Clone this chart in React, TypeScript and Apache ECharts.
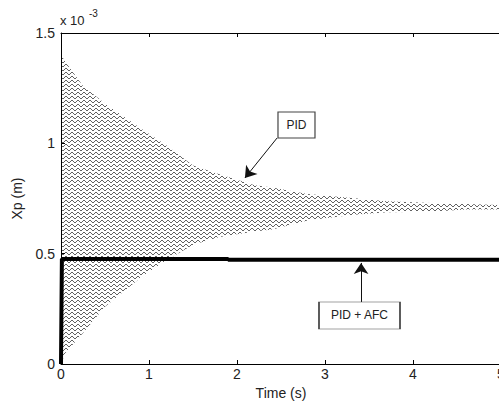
import React, { useEffect, useRef } from "react";
import * as echarts from "echarts";

// PID response: decaying oscillation band (envelope), units of 1e-3 m
const envTime = [0, 0.05, 0.25, 0.5, 0.9, 1.2, 1.5, 1.8, 2.2, 2.4, 2.8, 3.3, 3.7, 4.2, 4.6, 5.0];
const pidUpper = [1.4, 1.37, 1.26, 1.18, 1.07, 0.99, 0.9, 0.86, 0.81, 0.8, 0.77, 0.752, 0.737, 0.73, 0.725, 0.72];
const pidLower = [0.0, 0.05, 0.14, 0.26, 0.39, 0.47, 0.54, 0.575, 0.6, 0.61, 0.65, 0.675, 0.688, 0.69, 0.7, 0.7];

// PID + AFC response
const afcTime = [0, 0.01, 1.9, 1.9, 5];
const afcValue = [0, 0.476, 0.476, 0.472, 0.472];

const xTicks = { min: 0, max: 5, interval: 1 };
const yTicks = { min: 0, max: 1.5, interval: 0.5 };

// annotations (data coordinates)
const pidArrow = [[2.455, 1.024], [2.09, 0.843]];
const afcArrow = [[3.41, 0.281], [3.41, 0.458]];
const pidBox = { name: "PID", coord: [2.676, 1.083] };
const afcBox = { name: "PID + AFC", coord: [3.392, 0.22] };

function makePattern() {
  const c = document.createElement("canvas");
  c.width = 6;
  c.height = 4;
  const ctx = c.getContext("2d")!;
  ctx.fillStyle = "rgba(0,0,0,0.62)";
  const dots = [[0, 0], [1, 1], [2, 2], [3, 2], [4, 1], [5, 0]];
  dots.forEach(([x, y]) => ctx.fillRect(x, y, 1, 1));
  return c;
}

export default function App() {
  const ref = useRef<HTMLDivElement>(null);
  useEffect(() => {
    if (!ref.current) return;
    const chart = echarts.init(ref.current, undefined, { renderer: "svg" });
    const font = "Liberation Sans, Arial, sans-serif";
    const pattern = makePattern();
    const axisCommon = {
      type: "value" as const,
      z: 5,
      axisLine: { show: true, onZero: false, lineStyle: { color: "#000", width: 1 } },
      axisTick: { show: true, inside: true, length: 4, lineStyle: { color: "#000" } },
      splitLine: { show: false },
    };
    const option: any = {
      animation: false,
      backgroundColor: "#fff",
      textStyle: { fontFamily: font },
      grid: { left: 61, top: 33, width: 440, height: 331, containLabel: false, outerBoundsMode: "none" },
      xAxis: [
        {
          ...axisCommon,
          ...xTicks,
          position: "bottom",
          name: "Time (s)",
          nameLocation: "middle",
          nameGap: 20,
          nameTextStyle: { fontSize: 14, color: "#222", fontFamily: font },
          axisLabel: { color: "#222", fontSize: 14, margin: 3, fontFamily: font },
        },
        {
          ...axisCommon,
          ...xTicks,
          position: "top",
          axisLabel: { show: false },
        },
      ],
      yAxis: [
        {
          ...axisCommon,
          ...yTicks,
          position: "left",
          name: "Xp (m)",
          nameLocation: "middle",
          nameGap: 37,
          nameRotate: 90,
          nameTextStyle: { fontSize: 14, color: "#222", fontFamily: font },
          axisLabel: { color: "#222", fontSize: 14, margin: 6, fontFamily: font, formatter: (v: number) => String(v) },
        },
      ],
      graphic: [
        { type: "text", left: 60, top: 14, style: { text: "x 10", fontSize: 13, fill: "#222", fontFamily: font } },
        { type: "text", left: 89, top: 8, style: { text: "-3", fontSize: 10, fill: "#222", fontFamily: font } },
      ],
      series: [
        {
          name: "PID",
          type: "custom",
          data: envTime.map((t, i) => [t, pidUpper[i], pidLower[i]]),
          silent: true,
          z: 1,
          renderItem: (params: any, api: any) => {
            if (params.dataIndex !== 0) return { type: "group", children: [] };
            const top = envTime.map((t, i) => api.coord([t, pidUpper[i]]));
            const bottom = envTime.map((t, i) => api.coord([t, pidLower[i]])).reverse();
            return {
              type: "polygon",
              shape: { points: top.concat(bottom) },
              style: { fill: { image: pattern, repeat: "repeat" }, stroke: "none" },
            };
          },
        },
        {
          name: "PID + AFC",
          type: "line",
          data: afcTime.map((t, i) => [t, afcValue[i]]),
          showSymbol: false,
          symbol: "none",
          lineStyle: { color: "#000", width: 4 },
          z: 3,
          markLine: {
            silent: true,
            symbol: ["none", "arrow"],
            symbolSize: 11,
            label: { show: false },
            lineStyle: { color: "#111", width: 1, type: "solid" },
            itemStyle: { color: "#000" },
            data: [
              [{ coord: pidArrow[0] }, { coord: pidArrow[1] }],
              [{ coord: afcArrow[0] }, { coord: afcArrow[1] }],
            ],
          },
          markPoint: {
            silent: true,
            symbol: "rect",
            itemStyle: { color: "#fff", borderColor: "#444", borderWidth: 1 },
            label: { show: true, position: "inside", formatter: "{b}", color: "#222", fontSize: 12, fontFamily: font },
            data: [
              { name: pidBox.name, coord: pidBox.coord, symbolSize: [37, 26] },
              { name: afcBox.name, coord: afcBox.coord, symbolSize: [81, 27] },
            ],
          },
        },
      ],
    };
    chart.setOption(option);
    return () => chart.dispose();
  }, []);
  return <div ref={ref} style={{ position: "fixed", left: 0, top: 0, width: 499, height: 408 }} />;
}
